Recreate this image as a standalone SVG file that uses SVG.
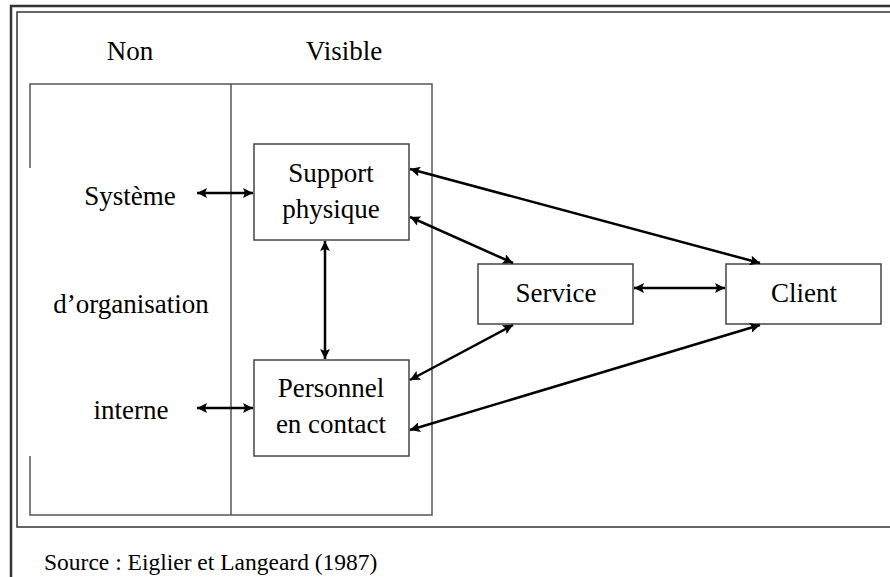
<svg xmlns="http://www.w3.org/2000/svg" width="890" height="577" viewBox="0 0 890 577">
  <defs>
    <marker id="head" viewBox="0 0 10 10" refX="10" refY="5" markerWidth="11" markerHeight="10" markerUnits="userSpaceOnUse" orient="auto-start-reverse">
      <path d="M0,0 L10,5 L0,10 L2,5 z" fill="#000"/>
    </marker>
  </defs>
  <style>
    .lbl { font-size: 27px; text-anchor: middle; fill: #000; }
    .src { font-size: 23.5px; fill: #000; }
    .frame { fill: none; stroke: #333; }
    .box { fill: #fff; stroke: #444; stroke-width: 1.5; }
    .zone { fill: none; stroke: #555; stroke-width: 1.5; }
    .arrow { fill: none; stroke: #000; stroke-width: 2.5; marker-start: url(#head); marker-end: url(#head); }
  </style>

  <rect width="890" height="577" fill="#fff"/>

  <!-- page frame: double rule on the left and top -->
  <g id="frame">
    <path class="frame" d="M11,577 V6 H890" stroke-width="2.5"/>
    <path class="frame" d="M890,12 H17 V527 H890" stroke-width="1.5"/>
  </g>

  <g font-family="'Liberation Serif', 'DejaVu Serif', serif">
    <!-- zones: non visible / visible -->
    <g id="zones">
      <path class="zone" d="M30,168 V84 H432 V515 H30 V456"/>
      <line class="zone" x1="231" y1="84" x2="231" y2="515"/>
      <text class="lbl" x="130" y="60">Non</text>
      <text class="lbl" x="344" y="60">Visible</text>
      <text class="lbl" x="130" y="205">Système</text>
      <text class="lbl" x="131" y="313">d’organisation</text>
      <text class="lbl" x="131" y="419">interne</text>
    </g>

    <g id="support">
      <rect class="box" x="254" y="144" width="155" height="96"/>
      <text class="lbl" x="331" y="182">Support</text>
      <text class="lbl" x="331" y="218">physique</text>
    </g>

    <g id="personnel">
      <rect class="box" x="254" y="360" width="155" height="96"/>
      <text class="lbl" x="331" y="397">Personnel</text>
      <text class="lbl" x="331" y="433">en contact</text>
    </g>

    <g id="service">
      <rect class="box" x="478" y="264" width="155" height="60"/>
      <text class="lbl" x="556" y="302">Service</text>
    </g>

    <g id="client">
      <rect class="box" x="726" y="264" width="155" height="60"/>
      <text class="lbl" x="804" y="302">Client</text>
    </g>

    <text class="src" x="44" y="570">Source : Eiglier et Langeard (1987)</text>
  </g>

  <g id="connectors">
    <line class="arrow" x1="197" y1="193" x2="253" y2="193"/>
    <line class="arrow" x1="197" y1="408" x2="253" y2="408"/>
    <line class="arrow" x1="325" y1="241" x2="325" y2="359"/>
    <line class="arrow" x1="410" y1="169" x2="760" y2="263"/>
    <line class="arrow" x1="410" y1="217" x2="513" y2="263"/>
    <line class="arrow" x1="410" y1="380" x2="513" y2="325"/>
    <line class="arrow" x1="410" y1="430" x2="760" y2="325"/>
    <line class="arrow" x1="634" y1="288" x2="725" y2="288"/>
  </g>
</svg>
